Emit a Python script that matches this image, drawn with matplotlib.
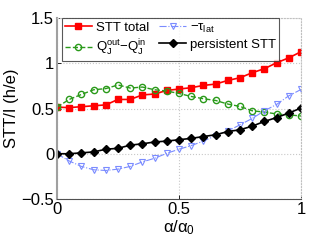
import numpy as np
import matplotlib
matplotlib.use("Agg")
import matplotlib.pyplot as plt

plt.rcParams['font.family'] = ['Liberation Sans', 'DejaVu Sans']
plt.rcParams['mathtext.fontset'] = 'custom'
plt.rcParams['mathtext.rm'] = 'Liberation Sans'
plt.rcParams['mathtext.it'] = 'Liberation Sans'

alpha = [0.0, 0.05, 0.1, 0.15, 0.2, 0.25, 0.3, 0.35, 0.4, 0.45, 0.5,
         0.55, 0.6, 0.65, 0.7, 0.75, 0.8, 0.85, 0.9, 0.95, 1.0]
stt_total = [0.515, 0.51, 0.52, 0.53, 0.54, 0.60, 0.60, 0.65, 0.66, 0.70, 0.715,
             0.73, 0.755, 0.77, 0.81, 0.84, 0.895, 0.94, 1.005, 1.06, 1.127]
q_diff = [0.515, 0.60, 0.655, 0.707, 0.72, 0.76, 0.726, 0.737, 0.707, 0.693, 0.666,
          0.633, 0.608, 0.589, 0.549, 0.523, 0.475, 0.46, 0.44, 0.43, 0.417]
tau_lat = [0.0, -0.08, -0.14, -0.177, -0.185, -0.17, -0.14, -0.09, -0.05, 0.005, 0.05,
           0.09, 0.14, 0.20, 0.25, 0.32, 0.39, 0.475, 0.545, 0.64, 0.71]
persistent = [0.0, 0.0, 0.01, 0.02, 0.05, 0.06, 0.095, 0.11, 0.13, 0.14, 0.155,
              0.17, 0.19, 0.21, 0.245, 0.265, 0.305, 0.357, 0.40, 0.45, 0.505]

xticks = [0, 0.5, 1]
yticks = [-0.5, 0, 0.5, 1, 1.5]

fig = plt.figure(figsize=(3.32, 2.49), dpi=100)
ax = fig.add_axes([0.1717, 0.2008, 0.7349, 0.7269])

ax.plot(alpha, stt_total, '-', color='#ff0000', marker='s', ms=4, lw=1.2,
        label='STT total')
ax.plot(alpha, q_diff, '--', color='#2a9a1a', marker='o', ms=4.5, mfc='none',
        mew=1.0, lw=1.0, label=r'Q$_\mathrm{J}^\mathrm{out}$$-$Q$_\mathrm{J}^\mathrm{in}$')
ax.plot(alpha, tau_lat, '-.', color='#7b8cff', marker='v', ms=4.5, mfc='none',
        mew=0.8, lw=0.8, label=r'$-\tau_\mathrm{lat}$')
ax.plot(alpha, persistent, '-', color='black', marker='D', ms=4, lw=1.2,
        label='persistent STT')

ax.set_xlim(0, 1)
ax.set_ylim(-0.5, 1.5)
ax.set_xticks(xticks)
ax.set_xticklabels(['0', '0.5', '1'])
ax.set_yticks(yticks)
ax.set_yticklabels(['\u22120.5', '0', '0.5', '1', '1.5'])
ax.grid(True, linestyle=':', color='#c8c8c8', lw=0.8)
ax.set_axisbelow(True)
ax.tick_params(direction='in', length=3, labelsize=12, width=0.6, pad=2)
for s in ['top', 'right']:
    ax.spines[s].set_linestyle(':')
    ax.spines[s].set_color('#c0c0c0')
    ax.spines[s].set_linewidth(0.8)
ax.spines['left'].set_color('#a0a0a0')
ax.spines['left'].set_linewidth(1.5)
ax.spines['bottom'].set_color('#505050')
ax.spines['bottom'].set_linewidth(0.8)

ax.set_xlabel(r'$\alpha/\alpha_0$', fontsize=12, labelpad=1)
ax.set_ylabel('STT/I (h/e)', fontsize=12, labelpad=2)

leg = ax.legend(ncol=2, loc='upper left', bbox_to_anchor=(0.02, 1.0),
                fontsize=9.5, frameon=True, fancybox=False, handlelength=2.0,
                handletextpad=0.3, columnspacing=0.8, borderpad=0.25,
                labelspacing=0.3, borderaxespad=0.0)
leg.get_frame().set_edgecolor('#303030')
leg.get_frame().set_linewidth(0.8)

fig.savefig('out.png', dpi=100)
